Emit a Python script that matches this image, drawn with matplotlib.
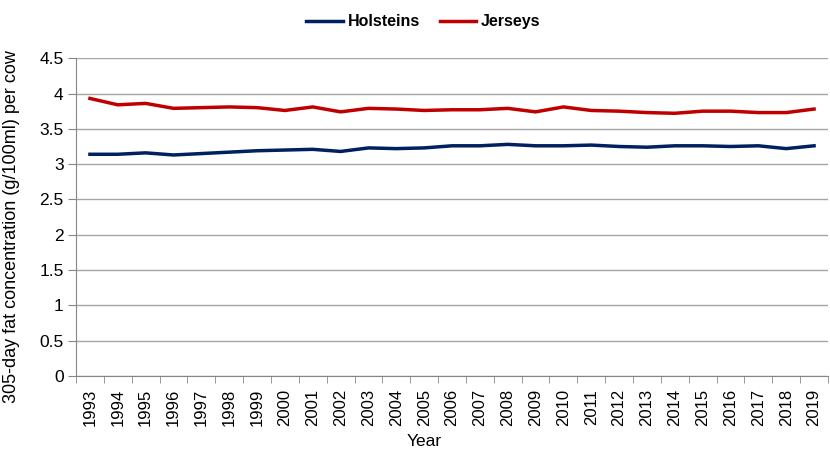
import numpy as np
import matplotlib as mpl
mpl.use('Agg')
import matplotlib.pyplot as plt

years = list(range(1993, 2020))
holsteins = [3.14, 3.14, 3.16, 3.13, 3.15, 3.17, 3.19, 3.20, 3.21, 3.18, 3.23, 3.22, 3.23,
             3.26, 3.26, 3.28, 3.26, 3.26, 3.27, 3.25, 3.24, 3.26, 3.26, 3.25, 3.26, 3.22, 3.26]
jerseys = [3.93, 3.84, 3.86, 3.79, 3.80, 3.81, 3.80, 3.76, 3.81, 3.74, 3.79, 3.78, 3.76,
           3.77, 3.77, 3.79, 3.74, 3.81, 3.76, 3.75, 3.73, 3.72, 3.75, 3.75, 3.73, 3.73, 3.78]

plt.rcParams['font.family'] = ['Liberation Sans', 'DejaVu Sans']

fig = plt.figure(figsize=(8.3, 4.51), dpi=100)
ax = fig.add_axes([0.0916, 0.166, 0.906, 0.705])

x = np.arange(len(years))
ax.plot(x, holsteins, color='#002060', lw=2.5, label='Holsteins')
ax.plot(x, jerseys, color='#C00000', lw=2.5, label='Jerseys')

ax.set_xlim(-0.5, len(years) - 0.5)
ax.set_ylim(0, 4.5)
ax.set_yticks(np.arange(0, 4.51, 0.5))
ax.set_yticklabels(['0', '0.5', '1', '1.5', '2', '2.5', '3', '3.5', '4', '4.5'], fontsize=12.5)
ax.set_xticks(x)
ax.set_xticklabels([str(y) for y in years], rotation=90, fontsize=12)
ax.set_xticks(np.arange(-0.5, len(years), 1), minor=True)
ax.tick_params(axis='x', which='major', length=0, pad=9)
ax.tick_params(axis='x', which='minor', length=5, color='#868686')
ax.tick_params(axis='y', length=6, color='#868686', pad=3)

ax.grid(axis='y', color='#A6A6A6', lw=1)
ax.set_axisbelow(True)
for s in ['top', 'right']:
    ax.spines[s].set_visible(False)
for s in ['left', 'bottom']:
    ax.spines[s].set_color('#868686')

ax.set_ylabel('305-day fat concentration (g/100ml) per cow', fontsize=13)
ax.yaxis.set_label_coords(-0.074, 0.47)
ax.set_xlabel('Year', fontsize=12.5)
ax.xaxis.set_label_coords(0.463, -0.183)

leg = fig.legend(loc='upper center', bbox_to_anchor=(0.51, 1.0), ncol=2, frameon=False,
                 prop={'weight': 'bold', 'size': 11.5}, handlelength=2.3, handletextpad=0.3,
                 columnspacing=1.25)

fig.savefig('out.png', dpi=100)
